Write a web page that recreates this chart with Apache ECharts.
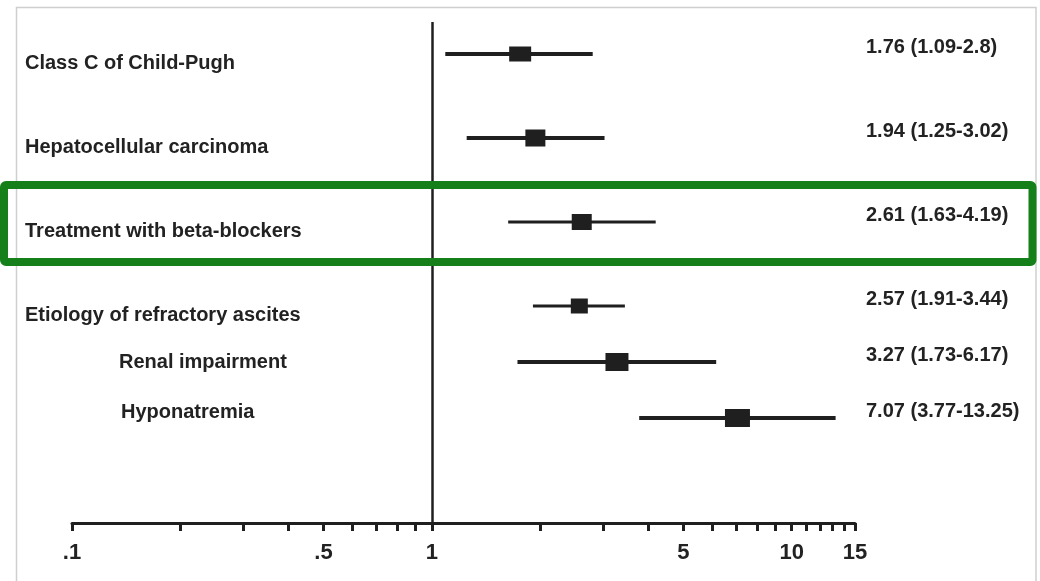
<!DOCTYPE html>
<html>
<head>
<meta charset="utf-8">
<script src="https://cdn.jsdelivr.net/npm/echarts@6/dist/echarts.min.js"></script>
<style>
  html, body { margin: 0; padding: 0; background: #fff; }
  #chart { width: 1040px; height: 581px; }
</style>
</head>
<body>
<div id="chart"></div>
<script>
// Risk factors and their hazard ratios with 95% confidence intervals
const factors = [
  'Class C of Child-Pugh',
  'Hepatocellular carcinoma',
  'Treatment with beta-blockers',
  'Etiology of refractory ascites',
  'Renal impairment',
  'Hyponatremia'
];
const hazardRatio = [1.76, 1.94, 2.61, 2.57, 3.27, 7.07];
const ciLower     = [1.09, 1.25, 1.63, 1.91, 1.73, 3.77];
const ciUpper     = [2.8,  3.02, 4.19, 3.44, 6.17, 13.25];

// Log-scale axis: minor ticks and the labelled ones
const tickValues = [0.1, 0.2, 0.3, 0.4, 0.5, 0.6, 0.7, 0.8, 0.9,
                    1, 2, 3, 4, 5, 6, 7, 8, 9,
                    10, 11, 12, 13, 14, 15];
const tickLabelValues = [0.1, 0.5, 1, 5, 10, 15];
const tickLabels      = ['.1', '.5', '1', '5', '10', '15'];

// Layout: vertical slot of each row (the last rows sit closer together),
// box size and whisker weight for each estimate
const rowSlot = [0, 3, 6, 9, 11, 13];
const boxSize = [[22, 15], [20, 17], [20, 16], [17, 15], [23, 18], [25, 18]];
const whiskerWidth = [4, 4, 3, 3, 4, 4];
const labelStyle = ['below', 'below', 'below', 'below', 'indent', 'indentUp'];

const INK = '#1f1f1f';
const FONT = "'Liberation Sans', Arial, Helvetica, sans-serif";
const SLOT_MIN = -1.143, SLOT_MAX = 16.75;

const textBase = { fontFamily: FONT, fontSize: 20, fontWeight: 'bold', color: '#222' };

const chart = echarts.init(document.getElementById('chart'), null, { renderer: 'canvas' });

chart.setOption({
  animation: false,
  backgroundColor: '#fff',
  grid: { left: 72, right: 185, top: 22, bottom: 58, containLabel: false, outerBoundsMode: 'none' },
  xAxis: {
    type: 'log',
    logBase: 10,
    min: 0.1,
    max: 15,
    axisLine: { show: true, onZero: false, lineStyle: { color: INK, width: 3 } },
    axisTick: { show: true, length: 8, customValues: tickValues, lineStyle: { color: INK, width: 3 } },
    axisLabel: {
      customValues: tickLabelValues,
      margin: 19,
      ...textBase,
      fontSize: 22,
      formatter: v => {
        const i = tickLabelValues.findIndex(t => Math.abs(t - v) < 1e-9);
        return i >= 0 ? tickLabels[i] : '';
      }
    },
    splitLine: { show: false },
    minorTick: { show: false }
  },
  yAxis: [
    {
      type: 'value', inverse: true, min: SLOT_MIN, max: SLOT_MAX, position: 'left',
      axisLine: { show: false }, axisTick: { show: false }, splitLine: { show: false },
      axisLabel: {
        customValues: rowSlot,
        align: 'left',
        margin: 47,
        formatter: v => {
          const i = rowSlot.indexOf(v);
          return i >= 0 ? `{${labelStyle[i]}|${factors[i]}}` : '';
        },
        rich: {
          below:    { ...textBase, padding: [19, 0, 0, 0] },
          indent:   { ...textBase, padding: [0, 0, 0, 94] },
          indentUp: { ...textBase, padding: [0, 0, 11, 96] }
        }
      }
    },
    {
      type: 'value', inverse: true, min: SLOT_MIN, max: SLOT_MAX, position: 'right',
      axisLine: { show: false }, axisTick: { show: false }, splitLine: { show: false },
      axisLabel: {
        customValues: rowSlot,
        align: 'left',
        margin: 11,
        formatter: v => {
          const i = rowSlot.indexOf(v);
          return i >= 0 ? `{v|${hazardRatio[i]} (${ciLower[i]}-${ciUpper[i]})}` : '';
        },
        rich: { v: { ...textBase, padding: [0, 0, 13, 0] } }
      }
    }
  ],
  graphic: [
    {
      type: 'rect', z: 0, silent: true,
      shape: { x: 16.5, y: 7.5, width: 1019.5, height: 600 },
      style: { fill: 'none', stroke: '#cfcfcf', lineWidth: 1.5 }
    },
    {
      type: 'rect', z: 100, silent: true,
      shape: { x: 4, y: 185, width: 1028.5, height: 77, r: 2 },
      style: { fill: 'none', stroke: '#15801a', lineWidth: 8 }
    }
  ],
  series: [
    {
      // line of no effect at HR = 1
      type: 'scatter',
      symbol: 'none',
      silent: true,
      data: hazardRatio.map((v, i) => [v, rowSlot[i]]),
      markLine: {
        silent: true,
        symbol: 'none',
        label: { show: false },
        lineStyle: { color: INK, width: 2.5, type: 'solid' },
        data: [{ xAxis: 1 }]
      }
    },
    {
      type: 'custom',
      clip: false,
      encode: { x: [1, 2, 3], y: 0 },
      data: factors.map((_, i) => [rowSlot[i], hazardRatio[i], ciLower[i], ciUpper[i]]),
      renderItem: (params, api) => {
        const i = params.dataIndex;
        const slot = api.value(0);
        const mid = api.coord([api.value(1), slot]);
        const lo = api.coord([api.value(2), slot]);
        const hi = api.coord([api.value(3), slot]);
        const [w, h] = boxSize[i];
        return {
          type: 'group',
          children: [
            {
              type: 'line',
              shape: { x1: lo[0], y1: lo[1], x2: hi[0], y2: hi[1] },
              style: { stroke: INK, lineWidth: whiskerWidth[i] }
            },
            {
              type: 'rect',
              shape: { x: mid[0] - w / 2, y: mid[1] - h / 2, width: w, height: h },
              style: { fill: INK }
            }
          ]
        };
      }
    }
  ]
});
</script>
</body>
</html>
